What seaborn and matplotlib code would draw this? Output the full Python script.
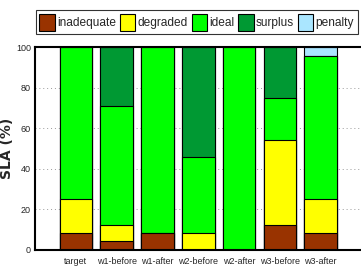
import matplotlib
matplotlib.use("Agg")
import matplotlib.pyplot as plt
import matplotlib.patches as mpatches
import seaborn as sns
import pandas as pd
import numpy as np

# --- data ---
configs = ["target", "w1-before", "w1-after", "w2-before", "w2-after", "w3-before", "w3-after"]
inadequate = [8.3, 4.2, 8.3, 0.0, 0.0, 12.5, 8.3]
degraded = [16.7, 8.3, 0.0, 8.3, 0.0, 41.7, 16.7]
ideal = [75.0, 58.3, 91.7, 37.5, 100.0, 20.8, 70.8]
surplus = [0.0, 29.2, 0.0, 54.2, 0.0, 25.0, 0.0]
penalty = [0.0, 0.0, 0.0, 0.0, 0.0, 0.0, 4.2]

levels = ["inadequate", "degraded", "ideal", "surplus", "penalty"]
colors = ["#993300", "#ffff00", "#00ff00", "#009933", "#aae6ff"]

sns.set_style("white")
plt.rcParams["font.family"] = ["Liberation Sans Narrow", "Liberation Sans", "DejaVu Sans"]

df = pd.DataFrame({"config": configs, "inadequate": inadequate, "degraded": degraded,
                   "ideal": ideal, "surplus": surplus, "penalty": penalty})
cum = df[levels].cumsum(axis=1)

fig = plt.figure(figsize=(3.61, 2.71), dpi=100)
ax = fig.add_axes([0.097, 0.078, 0.91, 0.748])

# draw cumulative totals from the top layer down so each segment shows
for lev, col in reversed(list(zip(levels, colors))):
    sns.barplot(x=df["config"], y=cum[lev], color=col, width=0.8,
                edgecolor="black", linewidth=0.8, saturation=1, ax=ax)

ax.set_xlim(-1, 7.05)
ax.set_ylim(0, 100)
ax.set_yticks([0, 20, 40, 60, 80, 100])
ax.set_xlabel("")
ax.set_ylabel("SLA (%)", fontsize=10, fontweight="bold", family="DejaVu Sans")
ax.yaxis.set_label_coords(-0.065, 0.5)
ax.tick_params(axis="y", labelsize=6.5, length=0, pad=3)
ax.tick_params(axis="x", labelsize=6.5, length=0, pad=5)
for y in [20, 40, 60, 80]:
    ax.axhline(y, color="#999999", linestyle=(0, (1, 3)), linewidth=0.7, zorder=0)
for side in ["left", "bottom", "top"]:
    ax.spines[side].set_linewidth(1.5)
    ax.spines[side].set_color("black")
ax.spines["right"].set_visible(False)

handles = [mpatches.Patch(facecolor=c, edgecolor="black", linewidth=0.8, label=l)
           for l, c in zip(levels, colors)]
leg = fig.legend(handles=handles, loc="upper center", bbox_to_anchor=(0.545, 0.985), ncol=5,
                 fontsize=8.6, handlelength=1.3, handleheight=1.8, handletextpad=0.2,
                 columnspacing=0.3, borderpad=0.3, fancybox=False, frameon=True)
leg.get_frame().set_edgecolor("black")
leg.get_frame().set_linewidth(0.8)

fig.savefig("out.png", dpi=100)
